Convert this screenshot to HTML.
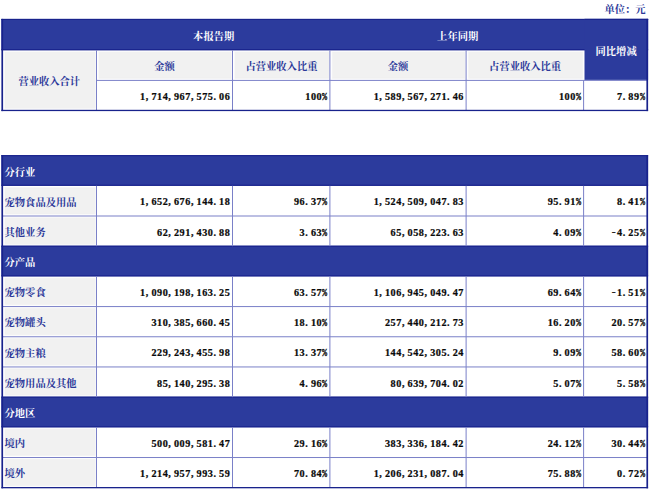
<!DOCTYPE html>
<html lang="zh-CN"><head><meta charset="utf-8"><title>营业收入构成</title>
<style>
html,body{margin:0;padding:0;background:#fff}
body{width:650px;height:491px;position:relative;overflow:hidden;font-family:"Liberation Serif",serif}
#pg{position:absolute;left:0;top:0;width:650px;height:491px;overflow:hidden}
#pg>svg{position:absolute;left:0;top:0;display:block}
#pg>svg text{font-family:"Liberation Serif","Noto Serif CJK SC",serif;font-size:10.3px;font-weight:bold}
.t{position:absolute;font-size:10.3px;line-height:1;white-space:nowrap;opacity:0;color:transparent}
.n{position:absolute;white-space:nowrap;font:bold 10.2px/14px "Liberation Serif",serif;letter-spacing:0.55px;height:14px;color:#0a0a0a;-webkit-text-stroke:.22px #0a0a0a}
.n i{font-style:normal;display:inline-block;width:5.65px;letter-spacing:0;text-align:left}
.n i.m{text-align:center;transform:translateY(-1.2px) scale(1.15,.8);transform-origin:50% 62%}
.n i.c{font:bold 10.6px/14px "Liberation Mono",monospace;vertical-align:baseline;transform:scaleX(.8);transform-origin:10% 50%;-webkit-text-stroke:.3px #0a0a0a}
</style></head>
<body><div id="pg">
<svg width="650" height="491" viewBox="0 0 650 491" aria-hidden="true">
<text x="604.4" y="12.71" fill="#2b3899">单位：元</text>
<rect x="4.95" y="52.05" width="90.25" height="56.15" fill="#f1f1f1" stroke="#f1f1f1" stroke-opacity=".55" stroke-width="1.2"/>
<rect x="98.9" y="52.05" width="132.3" height="26.35" fill="#f1f1f1" stroke="#f1f1f1" stroke-opacity=".55" stroke-width="1.2"/>
<rect x="234.9" y="52.05" width="94" height="26.35" fill="#f1f1f1" stroke="#f1f1f1" stroke-opacity=".55" stroke-width="1.2"/>
<rect x="332.3" y="52.05" width="132.8" height="26.35" fill="#f1f1f1" stroke="#f1f1f1" stroke-opacity=".55" stroke-width="1.2"/>
<rect x="468.5" y="52.05" width="114.1" height="26.35" fill="#f1f1f1" stroke="#f1f1f1" stroke-opacity=".55" stroke-width="1.2"/>
<rect x="1.4" y="18.9" width="646.7" height="31.35" fill="#2c3b9d"/>
<rect x="1.4" y="18.9" width="646.7" height="1.1" fill="#18228c"/>
<rect x="1.4" y="49.15" width="646.7" height="1.1" fill="#18228c"/>
<rect x="584.5" y="18.9" width="63.6" height="61" fill="#2c3b9d"/>
<rect x="584.5" y="18.9" width="63.6" height="1.1" fill="#18228c"/>
<rect x="96" y="50.25" width="1" height="60.25" fill="#7a80c8"/>
<rect x="232" y="50.25" width="1" height="60.25" fill="#7a80c8"/>
<rect x="329.4" y="50.25" width="1" height="60.25" fill="#7a80c8"/>
<rect x="465.6" y="50.25" width="1" height="60.25" fill="#7a80c8"/>
<rect x="583.1" y="80.4" width="1" height="30.1" fill="#7a80c8"/>
<rect x="96.5" y="79.9" width="550.6" height="1" fill="#7a80c8"/>
<rect x="1.4" y="18.9" width="1.7" height="92.2" fill="#18228c"/>
<rect x="646.4" y="18.9" width="1.7" height="92.2" fill="#18228c"/>
<rect x="1.4" y="109.8" width="646.7" height="1.3" fill="#18228c"/>
<text x="193.1" y="39.91" fill="#fff">本报告期</text>
<text x="437.1" y="39.91" fill="#fff">上年同期</text>
<text x="595.5" y="54.91" fill="#fff">同比增减</text>
<text x="18.4" y="84.91" fill="#2b3899">营业收入合计</text>
<text x="154.2" y="70.06" fill="#2b3899">金额</text>
<text x="245.45" y="70.06" fill="#2b3899">占营业收入比重</text>
<text x="387.7" y="70.06" fill="#2b3899">金额</text>
<text x="489.1" y="70.06" fill="#2b3899">占营业收入比重</text>
<rect x="1.4" y="155.12" width="646.7" height="30.69" fill="#2c3b9d"/>
<rect x="1.4" y="155.12" width="646.7" height="1.1" fill="#18228c"/>
<rect x="1.4" y="184.71" width="646.7" height="1.1" fill="#18228c"/>
<rect x="4.95" y="187.61" width="90.25" height="26.39" fill="#f1f1f1" stroke="#f1f1f1" stroke-opacity=".55" stroke-width="1.2"/>
<rect x="4.95" y="217.8" width="90.25" height="26.39" fill="#f1f1f1" stroke="#f1f1f1" stroke-opacity=".55" stroke-width="1.2"/>
<rect x="1.4" y="245.69" width="646.7" height="30.69" fill="#2c3b9d"/>
<rect x="1.4" y="245.69" width="646.7" height="1.1" fill="#18228c"/>
<rect x="1.4" y="275.28" width="646.7" height="1.1" fill="#18228c"/>
<rect x="4.95" y="278.18" width="90.25" height="26.39" fill="#f1f1f1" stroke="#f1f1f1" stroke-opacity=".55" stroke-width="1.2"/>
<rect x="4.95" y="308.37" width="90.25" height="26.39" fill="#f1f1f1" stroke="#f1f1f1" stroke-opacity=".55" stroke-width="1.2"/>
<rect x="4.95" y="338.56" width="90.25" height="26.39" fill="#f1f1f1" stroke="#f1f1f1" stroke-opacity=".55" stroke-width="1.2"/>
<rect x="4.95" y="368.75" width="90.25" height="26.39" fill="#f1f1f1" stroke="#f1f1f1" stroke-opacity=".55" stroke-width="1.2"/>
<rect x="1.4" y="396.64" width="646.7" height="30.69" fill="#2c3b9d"/>
<rect x="1.4" y="396.64" width="646.7" height="1.1" fill="#18228c"/>
<rect x="1.4" y="426.23" width="646.7" height="1.1" fill="#18228c"/>
<rect x="4.95" y="429.13" width="90.25" height="26.39" fill="#f1f1f1" stroke="#f1f1f1" stroke-opacity=".55" stroke-width="1.2"/>
<rect x="4.95" y="459.32" width="90.25" height="26.39" fill="#f1f1f1" stroke="#f1f1f1" stroke-opacity=".55" stroke-width="1.2"/>
<rect x="96" y="185.81" width="1" height="30.19" fill="#7a80c8"/>
<rect x="232" y="185.81" width="1" height="30.19" fill="#7a80c8"/>
<rect x="329.4" y="185.81" width="1" height="30.19" fill="#7a80c8"/>
<rect x="465.6" y="185.81" width="1" height="30.19" fill="#7a80c8"/>
<rect x="583.1" y="185.81" width="1" height="30.19" fill="#7a80c8"/>
<rect x="2.4" y="215.5" width="644.7" height="1" fill="#7a80c8"/>
<rect x="96" y="216" width="1" height="30.19" fill="#7a80c8"/>
<rect x="232" y="216" width="1" height="30.19" fill="#7a80c8"/>
<rect x="329.4" y="216" width="1" height="30.19" fill="#7a80c8"/>
<rect x="465.6" y="216" width="1" height="30.19" fill="#7a80c8"/>
<rect x="583.1" y="216" width="1" height="30.19" fill="#7a80c8"/>
<rect x="96" y="276.38" width="1" height="30.19" fill="#7a80c8"/>
<rect x="232" y="276.38" width="1" height="30.19" fill="#7a80c8"/>
<rect x="329.4" y="276.38" width="1" height="30.19" fill="#7a80c8"/>
<rect x="465.6" y="276.38" width="1" height="30.19" fill="#7a80c8"/>
<rect x="583.1" y="276.38" width="1" height="30.19" fill="#7a80c8"/>
<rect x="2.4" y="306.07" width="644.7" height="1" fill="#7a80c8"/>
<rect x="96" y="306.57" width="1" height="30.19" fill="#7a80c8"/>
<rect x="232" y="306.57" width="1" height="30.19" fill="#7a80c8"/>
<rect x="329.4" y="306.57" width="1" height="30.19" fill="#7a80c8"/>
<rect x="465.6" y="306.57" width="1" height="30.19" fill="#7a80c8"/>
<rect x="583.1" y="306.57" width="1" height="30.19" fill="#7a80c8"/>
<rect x="2.4" y="336.26" width="644.7" height="1" fill="#7a80c8"/>
<rect x="96" y="336.76" width="1" height="30.19" fill="#7a80c8"/>
<rect x="232" y="336.76" width="1" height="30.19" fill="#7a80c8"/>
<rect x="329.4" y="336.76" width="1" height="30.19" fill="#7a80c8"/>
<rect x="465.6" y="336.76" width="1" height="30.19" fill="#7a80c8"/>
<rect x="583.1" y="336.76" width="1" height="30.19" fill="#7a80c8"/>
<rect x="2.4" y="366.45" width="644.7" height="1" fill="#7a80c8"/>
<rect x="96" y="366.95" width="1" height="30.19" fill="#7a80c8"/>
<rect x="232" y="366.95" width="1" height="30.19" fill="#7a80c8"/>
<rect x="329.4" y="366.95" width="1" height="30.19" fill="#7a80c8"/>
<rect x="465.6" y="366.95" width="1" height="30.19" fill="#7a80c8"/>
<rect x="583.1" y="366.95" width="1" height="30.19" fill="#7a80c8"/>
<rect x="96" y="427.33" width="1" height="30.19" fill="#7a80c8"/>
<rect x="232" y="427.33" width="1" height="30.19" fill="#7a80c8"/>
<rect x="329.4" y="427.33" width="1" height="30.19" fill="#7a80c8"/>
<rect x="465.6" y="427.33" width="1" height="30.19" fill="#7a80c8"/>
<rect x="583.1" y="427.33" width="1" height="30.19" fill="#7a80c8"/>
<rect x="2.4" y="457.02" width="644.7" height="1" fill="#7a80c8"/>
<rect x="96" y="457.52" width="1" height="30.19" fill="#7a80c8"/>
<rect x="232" y="457.52" width="1" height="30.19" fill="#7a80c8"/>
<rect x="329.4" y="457.52" width="1" height="30.19" fill="#7a80c8"/>
<rect x="465.6" y="457.52" width="1" height="30.19" fill="#7a80c8"/>
<rect x="583.1" y="457.52" width="1" height="30.19" fill="#7a80c8"/>
<rect x="1.4" y="155.12" width="1.7" height="333.19" fill="#18228c"/>
<rect x="646.4" y="155.12" width="1.7" height="333.19" fill="#18228c"/>
<rect x="1.4" y="487.01" width="646.7" height="1.3" fill="#18228c"/>
<text x="4.5" y="175.53" fill="#fff">分行业</text>
<text x="4.5" y="205.72" fill="#2b3899">宠物食品及用品</text>
<text x="4.5" y="235.91" fill="#2b3899">其他业务</text>
<text x="4.5" y="266.1" fill="#fff">分产品</text>
<text x="4.5" y="296.29" fill="#2b3899">宠物零食</text>
<text x="4.5" y="326.48" fill="#2b3899">宠物罐头</text>
<text x="4.5" y="356.67" fill="#2b3899">宠物主粮</text>
<text x="4.5" y="386.86" fill="#2b3899">宠物用品及其他</text>
<text x="4.5" y="417.05" fill="#fff">分地区</text>
<text x="4.5" y="447.24" fill="#2b3899">境内</text>
<text x="4.5" y="477.43" fill="#2b3899">境外</text>
</svg>
<span class="t" style="left:604.4px;top:3.7px">单位：元</span>
<span class="t" style="left:193.1px;top:30.9px">本报告期</span>
<span class="t" style="left:437.1px;top:30.9px">上年同期</span>
<span class="t" style="left:595.5px;top:45.9px">同比增减</span>
<span class="t" style="left:18.4px;top:75.8px">营业收入合计</span>
<span class="t" style="left:154.2px;top:61px">金额</span>
<span class="t" style="left:245.4px;top:61px">占营业收入比重</span>
<span class="t" style="left:387.7px;top:61px">金额</span>
<span class="t" style="left:489.1px;top:61px">占营业收入比重</span>
<span class="n" style="right:419.6px;top:89.6px">1<i class="p">,</i>714<i class="p">,</i>967<i class="p">,</i>575<i class="p">.</i>06</span>
<span class="n" style="right:322.2px;top:89.6px">100<i class="c">%</i></span>
<span class="n" style="right:186px;top:89.6px">1<i class="p">,</i>589<i class="p">,</i>567<i class="p">,</i>271<i class="p">.</i>46</span>
<span class="n" style="right:68.5px;top:89.6px">100<i class="c">%</i></span>
<span class="n" style="right:4.75px;top:89.6px">7<i class="p">.</i>89<i class="c">%</i></span>
<span class="t" style="left:4.5px;top:166.5px">分行业</span>
<span class="t" style="left:4.5px;top:196.7px">宠物食品及用品</span>
<span class="n" style="right:419.6px;top:195.35px">1<i class="p">,</i>652<i class="p">,</i>676<i class="p">,</i>144<i class="p">.</i>18</span>
<span class="n" style="right:322.2px;top:195.35px">96<i class="p">.</i>37<i class="c">%</i></span>
<span class="n" style="right:186px;top:195.35px">1<i class="p">,</i>524<i class="p">,</i>509<i class="p">,</i>047<i class="p">.</i>83</span>
<span class="n" style="right:68.5px;top:195.35px">95<i class="p">.</i>91<i class="c">%</i></span>
<span class="n" style="right:4.75px;top:195.35px">8<i class="p">.</i>41<i class="c">%</i></span>
<span class="t" style="left:4.5px;top:226.8px">其他业务</span>
<span class="n" style="right:419.6px;top:225.54px">62<i class="p">,</i>291<i class="p">,</i>430<i class="p">.</i>88</span>
<span class="n" style="right:322.2px;top:225.54px">3<i class="p">.</i>63<i class="c">%</i></span>
<span class="n" style="right:186px;top:225.54px">65<i class="p">,</i>058<i class="p">,</i>223<i class="p">.</i>63</span>
<span class="n" style="right:68.5px;top:225.54px">4<i class="p">.</i>09<i class="c">%</i></span>
<span class="n" style="right:4.75px;top:225.54px"><i class="m">-</i>4<i class="p">.</i>25<i class="c">%</i></span>
<span class="t" style="left:4.5px;top:257px">分产品</span>
<span class="t" style="left:4.5px;top:287.2px">宠物零食</span>
<span class="n" style="right:419.6px;top:285.93px">1<i class="p">,</i>090<i class="p">,</i>198<i class="p">,</i>163<i class="p">.</i>25</span>
<span class="n" style="right:322.2px;top:285.93px">63<i class="p">.</i>57<i class="c">%</i></span>
<span class="n" style="right:186px;top:285.93px">1<i class="p">,</i>106<i class="p">,</i>945<i class="p">,</i>049<i class="p">.</i>47</span>
<span class="n" style="right:68.5px;top:285.93px">69<i class="p">.</i>64<i class="c">%</i></span>
<span class="n" style="right:4.75px;top:285.93px"><i class="m">-</i>1<i class="p">.</i>51<i class="c">%</i></span>
<span class="t" style="left:4.5px;top:317.4px">宠物罐头</span>
<span class="n" style="right:419.6px;top:316.12px">310<i class="p">,</i>385<i class="p">,</i>660<i class="p">.</i>45</span>
<span class="n" style="right:322.2px;top:316.12px">18<i class="p">.</i>10<i class="c">%</i></span>
<span class="n" style="right:186px;top:316.12px">257<i class="p">,</i>440<i class="p">,</i>212<i class="p">.</i>73</span>
<span class="n" style="right:68.5px;top:316.12px">16<i class="p">.</i>20<i class="c">%</i></span>
<span class="n" style="right:4.75px;top:316.12px">20<i class="p">.</i>57<i class="c">%</i></span>
<span class="t" style="left:4.5px;top:347.6px">宠物主粮</span>
<span class="n" style="right:419.6px;top:346.31px">229<i class="p">,</i>243<i class="p">,</i>455<i class="p">.</i>98</span>
<span class="n" style="right:322.2px;top:346.31px">13<i class="p">.</i>37<i class="c">%</i></span>
<span class="n" style="right:186px;top:346.31px">144<i class="p">,</i>542<i class="p">,</i>305<i class="p">.</i>24</span>
<span class="n" style="right:68.5px;top:346.31px">9<i class="p">.</i>09<i class="c">%</i></span>
<span class="n" style="right:4.75px;top:346.31px">58<i class="p">.</i>60<i class="c">%</i></span>
<span class="t" style="left:4.5px;top:377.8px">宠物用品及其他</span>
<span class="n" style="right:419.6px;top:376.5px">85<i class="p">,</i>140<i class="p">,</i>295<i class="p">.</i>38</span>
<span class="n" style="right:322.2px;top:376.5px">4<i class="p">.</i>96<i class="c">%</i></span>
<span class="n" style="right:186px;top:376.5px">80<i class="p">,</i>639<i class="p">,</i>704<i class="p">.</i>02</span>
<span class="n" style="right:68.5px;top:376.5px">5<i class="p">.</i>07<i class="c">%</i></span>
<span class="n" style="right:4.75px;top:376.5px">5<i class="p">.</i>58<i class="c">%</i></span>
<span class="t" style="left:4.5px;top:408px">分地区</span>
<span class="t" style="left:4.5px;top:438.2px">境内</span>
<span class="n" style="right:419.6px;top:436.88px">500<i class="p">,</i>009<i class="p">,</i>581<i class="p">.</i>47</span>
<span class="n" style="right:322.2px;top:436.88px">29<i class="p">.</i>16<i class="c">%</i></span>
<span class="n" style="right:186px;top:436.88px">383<i class="p">,</i>336<i class="p">,</i>184<i class="p">.</i>42</span>
<span class="n" style="right:68.5px;top:436.88px">24<i class="p">.</i>12<i class="c">%</i></span>
<span class="n" style="right:4.75px;top:436.88px">30<i class="p">.</i>44<i class="c">%</i></span>
<span class="t" style="left:4.5px;top:468.4px">境外</span>
<span class="n" style="right:419.6px;top:467.06px">1<i class="p">,</i>214<i class="p">,</i>957<i class="p">,</i>993<i class="p">.</i>59</span>
<span class="n" style="right:322.2px;top:467.06px">70<i class="p">.</i>84<i class="c">%</i></span>
<span class="n" style="right:186px;top:467.06px">1<i class="p">,</i>206<i class="p">,</i>231<i class="p">,</i>087<i class="p">.</i>04</span>
<span class="n" style="right:68.5px;top:467.06px">75<i class="p">.</i>88<i class="c">%</i></span>
<span class="n" style="right:4.75px;top:467.06px">0<i class="p">.</i>72<i class="c">%</i></span>
</div></body></html>
